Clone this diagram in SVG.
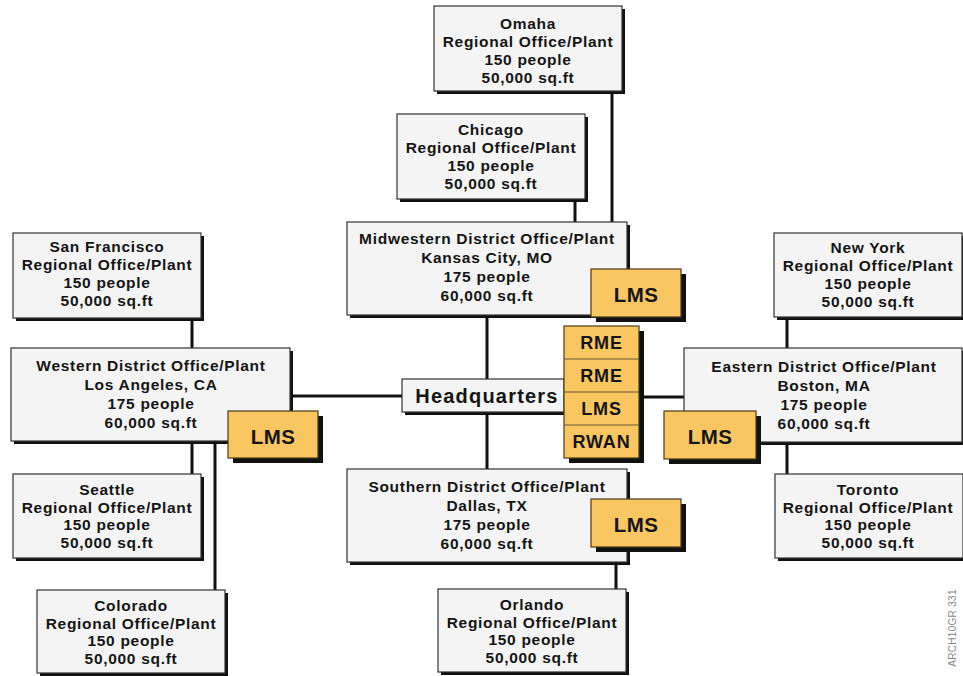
<svg xmlns="http://www.w3.org/2000/svg" width="963" height="676" viewBox="0 0 963 676">
  <style>
    .bg { fill: #ffffff; }
    .wire { stroke: #111; stroke-width: 3; fill: none; }
    .shadow { fill: #111; }
    .box { fill: #f4f4f4; stroke: #333; stroke-width: 1.2; }
    .lms { fill: #f9c662; stroke: #4a3a1a; stroke-width: 1.2; }
    .cell { stroke: #6b5530; stroke-width: 1.2; }
    text { font-family: "Liberation Sans", Arial, sans-serif; font-weight: bold; fill: #151515; text-anchor: middle; }
    .t { font-size: 15.5px; letter-spacing: 0.7px; }
    .hq { font-size: 20px; letter-spacing: 1.2px; }
    .tag { font-size: 20.5px; letter-spacing: 0.4px; }
    .stk { font-size: 18px; letter-spacing: 0.8px; }
    .ref { font-size: 10px; font-weight: normal; fill: #888; letter-spacing: 0.3px; }
  </style>

  <rect class="bg" x="0" y="0" width="963" height="676"/>

  <!-- connectors -->
  <g id="connectors" class="wire">
    <line x1="612" y1="91" x2="612" y2="222"/>
    <line x1="575" y1="199" x2="575" y2="222"/>
    <line x1="487" y1="315" x2="487" y2="379"/>
    <line x1="487" y1="412" x2="487" y2="469"/>
    <line x1="616" y1="562" x2="616" y2="589"/>
    <line x1="290" y1="396" x2="402" y2="396"/>
    <line x1="639" y1="397" x2="684" y2="397"/>
    <line x1="192" y1="318" x2="192" y2="348"/>
    <line x1="192" y1="441" x2="192" y2="474"/>
    <line x1="215" y1="441" x2="215" y2="590"/>
    <line x1="787" y1="317" x2="787" y2="348"/>
    <line x1="787" y1="442" x2="787" y2="474"/>
  </g>

  <!-- regional offices -->
  <g id="omaha">
    <rect class="shadow" x="437" y="9" width="188" height="85"/>
    <rect class="box" x="434" y="6" width="188" height="85"/>
    <text class="t" x="528" y="29">Omaha</text>
    <text class="t" x="528" y="47">Regional Office/Plant</text>
    <text class="t" x="528" y="65">150 people</text>
    <text class="t" x="528" y="83">50,000 sq.ft</text>
  </g>

  <g id="chicago">
    <rect class="shadow" x="400" y="117" width="188" height="85"/>
    <rect class="box" x="397" y="114" width="188" height="85"/>
    <text class="t" x="491" y="135">Chicago</text>
    <text class="t" x="491" y="153">Regional Office/Plant</text>
    <text class="t" x="491" y="171">150 people</text>
    <text class="t" x="491" y="189">50,000 sq.ft</text>
  </g>

  <g id="san-francisco">
    <rect class="shadow" x="16" y="236" width="188" height="85"/>
    <rect class="box" x="13" y="233" width="188" height="85"/>
    <text class="t" x="107" y="252">San Francisco</text>
    <text class="t" x="107" y="270">Regional Office/Plant</text>
    <text class="t" x="107" y="288">150 people</text>
    <text class="t" x="107" y="306">50,000 sq.ft</text>
  </g>

  <g id="new-york">
    <rect class="shadow" x="777" y="236" width="188" height="84"/>
    <rect class="box" x="774" y="233" width="188" height="84"/>
    <text class="t" x="868" y="253">New York</text>
    <text class="t" x="868" y="271">Regional Office/Plant</text>
    <text class="t" x="868" y="289">150 people</text>
    <text class="t" x="868" y="307">50,000 sq.ft</text>
  </g>

  <g id="seattle">
    <rect class="shadow" x="16" y="477" width="188" height="84"/>
    <rect class="box" x="13" y="474" width="188" height="84"/>
    <text class="t" x="107" y="495">Seattle</text>
    <text class="t" x="107" y="513">Regional Office/Plant</text>
    <text class="t" x="107" y="530">150 people</text>
    <text class="t" x="107" y="548">50,000 sq.ft</text>
  </g>

  <g id="colorado">
    <rect class="shadow" x="40" y="593" width="188" height="83"/>
    <rect class="box" x="37" y="590" width="188" height="83"/>
    <text class="t" x="131" y="611">Colorado</text>
    <text class="t" x="131" y="629">Regional Office/Plant</text>
    <text class="t" x="131" y="646">150 people</text>
    <text class="t" x="131" y="664">50,000 sq.ft</text>
  </g>

  <g id="toronto">
    <rect class="shadow" x="778" y="477" width="188" height="84"/>
    <rect class="box" x="775" y="474" width="188" height="84"/>
    <text class="t" x="868" y="495">Toronto</text>
    <text class="t" x="868" y="513">Regional Office/Plant</text>
    <text class="t" x="868" y="530">150 people</text>
    <text class="t" x="868" y="548">50,000 sq.ft</text>
  </g>

  <g id="orlando">
    <rect class="shadow" x="441" y="592" width="188" height="83"/>
    <rect class="box" x="438" y="589" width="188" height="83"/>
    <text class="t" x="532" y="610">Orlando</text>
    <text class="t" x="532" y="628">Regional Office/Plant</text>
    <text class="t" x="532" y="645">150 people</text>
    <text class="t" x="532" y="663">50,000 sq.ft</text>
  </g>

  <!-- district offices -->
  <g id="midwestern">
    <rect class="shadow" x="350" y="225" width="280" height="93"/>
    <rect class="box" x="347" y="222" width="280" height="93"/>
    <text class="t" x="487" y="244">Midwestern District Office/Plant</text>
    <text class="t" x="487" y="263">Kansas City, MO</text>
    <text class="t" x="487" y="282">175 people</text>
    <text class="t" x="487" y="301">60,000 sq.ft</text>
  </g>

  <g id="western">
    <rect class="shadow" x="14" y="351" width="279" height="93"/>
    <rect class="box" x="11" y="348" width="279" height="93"/>
    <text class="t" x="151" y="371">Western District Office/Plant</text>
    <text class="t" x="151" y="390">Los Angeles, CA</text>
    <text class="t" x="151" y="409">175 people</text>
    <text class="t" x="151" y="428">60,000 sq.ft</text>
  </g>

  <g id="eastern">
    <rect class="shadow" x="687" y="351" width="279" height="94"/>
    <rect class="box" x="684" y="348" width="278" height="94"/>
    <text class="t" x="824" y="372">Eastern District Office/Plant</text>
    <text class="t" x="824" y="391">Boston, MA</text>
    <text class="t" x="824" y="410">175 people</text>
    <text class="t" x="824" y="429">60,000 sq.ft</text>
  </g>

  <g id="southern">
    <rect class="shadow" x="350" y="472" width="280" height="93"/>
    <rect class="box" x="347" y="469" width="280" height="93"/>
    <text class="t" x="487" y="492">Southern District Office/Plant</text>
    <text class="t" x="487" y="511">Dallas, TX</text>
    <text class="t" x="487" y="530">175 people</text>
    <text class="t" x="487" y="549">60,000 sq.ft</text>
  </g>

  <!-- headquarters -->
  <g id="headquarters">
    <rect class="shadow" x="405" y="382" width="162" height="33"/>
    <rect class="box" x="402" y="379" width="162" height="33"/>
    <text class="hq" x="487" y="403">Headquarters</text>
  </g>

  <!-- headquarters service stack -->
  <g id="hq-stack">
    <rect class="shadow" x="569" y="331" width="75" height="132"/>
    <rect class="lms" x="564" y="326" width="75" height="132"/>
    <line class="cell" x1="564" y1="359" x2="639" y2="359"/>
    <line class="cell" x1="564" y1="392" x2="639" y2="392"/>
    <line class="cell" x1="564" y1="425" x2="639" y2="425"/>
    <text class="stk" x="601.5" y="349">RME</text>
    <text class="stk" x="601.5" y="382">RME</text>
    <text class="stk" x="601.5" y="415">LMS</text>
    <text class="stk" x="601.5" y="448">RWAN</text>
  </g>

  <!-- district LMS tags -->
  <g id="lms-midwestern">
    <rect class="shadow" x="596" y="274" width="90" height="48"/>
    <rect class="lms" x="591" y="269" width="90" height="48"/>
    <text class="tag" x="636" y="302">LMS</text>
  </g>

  <g id="lms-western">
    <rect class="shadow" x="233" y="416" width="90" height="47"/>
    <rect class="lms" x="228" y="411" width="90" height="47"/>
    <text class="tag" x="273" y="444">LMS</text>
  </g>

  <g id="lms-eastern">
    <rect class="shadow" x="669" y="416" width="92" height="48"/>
    <rect class="lms" x="664" y="411" width="92" height="48"/>
    <text class="tag" x="710" y="444">LMS</text>
  </g>

  <g id="lms-southern">
    <rect class="shadow" x="596" y="504" width="90" height="48"/>
    <rect class="lms" x="591" y="499" width="90" height="48"/>
    <text class="tag" x="636" y="532">LMS</text>
  </g>

  <!-- drawing reference -->
  <text class="ref" transform="translate(956 628) rotate(-90)">ARCH10GR 331</text>
</svg>
